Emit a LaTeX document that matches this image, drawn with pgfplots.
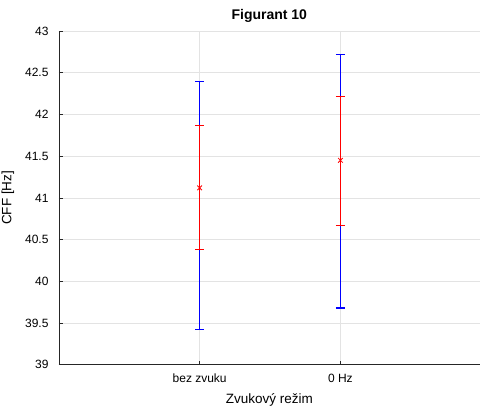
\documentclass[border=0pt]{standalone}
\usepackage{pgfplots}
\pgfplotsset{compat=1.18}
\usepackage{fontspec}
\setmainfont{Liberation Sans}
\definecolor{axc}{HTML}{262626}
\definecolor{gridc}{HTML}{E3E3E3}
\definecolor{mblue}{rgb}{0,0,1}
\definecolor{mred}{rgb}{1,0,0}
\begin{document}
\begin{tikzpicture}
\begin{axis}[
  scale only axis,
  width=421bp, height=334bp,
  xmin=0, xmax=2.99, ymin=39, ymax=43,
  axis x line*=bottom, axis y line*=left,
  axis line style={draw=axc, line width=0.6bp, -},
  xtick={1,2}, xticklabels={bez zvuku, 0 Hz},
  ytick={39,39.5,...,43},
  yticklabels={39,39.5,40,40.5,41,41.5,42,42.5,43},
  tick align=inside, major tick length=4bp,
  tick style={draw=axc, line width=0.6bp},
  grid=major, major grid style={draw=gridc, line width=0.7bp},
  ticklabel style={font=\fontsize{12bp}{13bp}\selectfont},
  xticklabel style={yshift=-6bp},
  yticklabel style={xshift=-7bp},
  /pgf/number format/assume math mode=true,
  title={\textbf{Figurant 10}},
  title style={font=\fontsize{14bp}{15bp}\selectfont, yshift=-1bp},
  xlabel={Zvukový režim}, ylabel={CFF [Hz]},
  label style={font=\fontsize{13.5bp}{14bp}\selectfont},
  xlabel style={yshift=-4bp},
  ylabel style={yshift=4bp},
  unbounded coords=jump,
  clip=false,
]
% blue bars (outer range), one path
\addplot[draw=mblue, line width=1.1bp, mark=none] coordinates {
  (1,39.42) (1,42.39) (1,nan)
  (0.967,42.39) (1.033,42.39) (1,nan)
  (0.967,39.42) (1.033,39.42) (1,nan)
  (2,39.68) (2,42.72) (2,nan)
  (1.967,42.72) (2.033,42.72) (2,nan)
  (1.967,39.68) (2.033,39.68)};
% red bars (inner range), one path
\addplot[draw=mred, line width=0.9bp, mark=none] coordinates {
  (1,40.38) (1,41.87) (1,nan)
  (0.967,41.87) (1.033,41.87) (1,nan)
  (0.967,40.38) (1.033,40.38) (1,nan)
  (2,40.67) (2,42.22) (2,nan)
  (1.967,42.22) (2.033,42.22) (2,nan)
  (1.967,40.67) (2.033,40.67)};
% means
\addplot[draw=mred, only marks, mark=x, mark size=3.3bp,
  mark options={draw=mred, line width=0.8bp}]
  coordinates {(1,41.12) (2,41.45)};
\end{axis}
\pgfresetboundingbox
\path[use as bounding box] (current axis.south west) ++(-59bp,-47bp) rectangle ([xshift=0.3bp, yshift=31bp]current axis.north east);
\end{tikzpicture}
\end{document}
